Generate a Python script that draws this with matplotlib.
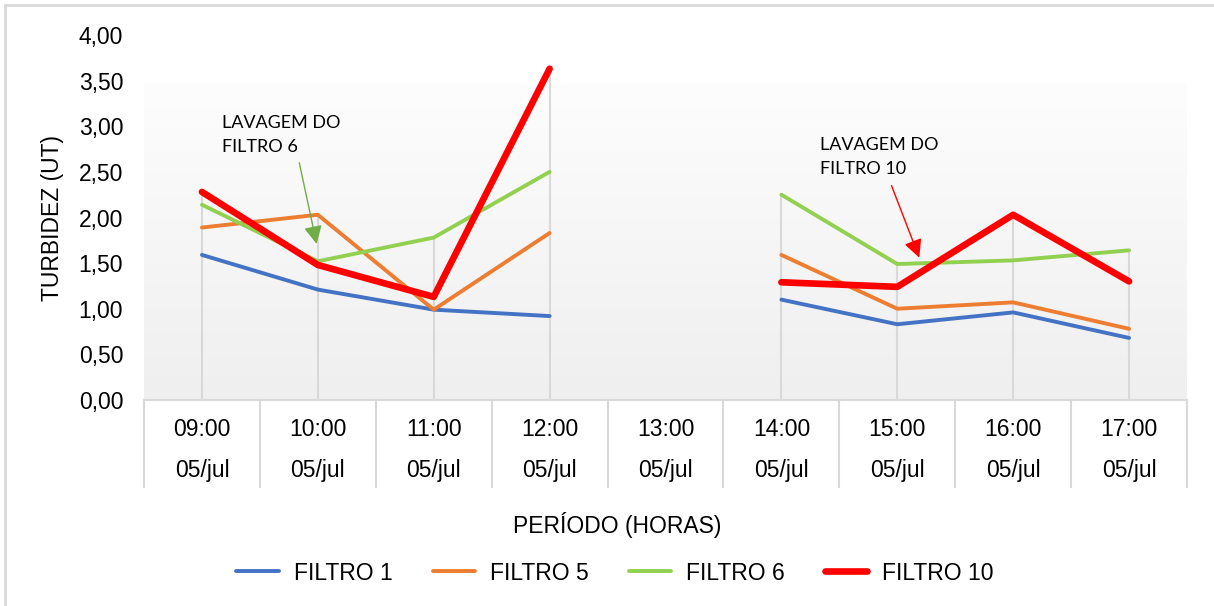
import matplotlib.pyplot as plt
import matplotlib.patches as mpatches
import matplotlib.transforms as mtransforms
from matplotlib.colors import LinearSegmentedColormap
import numpy as np

plt.rcParams['font.family'] = ['Liberation Sans', 'DejaVu Sans']

horas = ['09:00', '10:00', '11:00', '12:00', '13:00', '14:00', '15:00', '16:00', '17:00']
dia = '05/jul'
nan = np.nan
filtro1 = [1.59, 1.21, 0.99, 0.92, nan, 1.10, 0.83, 0.96, 0.68]
filtro5 = [1.89, 2.03, 0.99, 1.83, nan, 1.59, 1.00, 1.07, 0.78]
filtro6 = [2.14, 1.52, 1.78, 2.50, nan, 2.25, 1.49, 1.53, 1.64]
filtro10 = [2.28, 1.48, 1.13, 3.63, nan, 1.29, 1.24, 2.03, 1.30]
yticks = [0, 0.5, 1.0, 1.5, 2.0, 2.5, 3.0, 3.5, 4.0]

series = [('FILTRO 1', filtro1, '#4472c4', 2.8),
          ('FILTRO 5', filtro5, '#ed7d31', 2.8),
          ('FILTRO 6', filtro6, '#92d050', 2.8),
          ('FILTRO 10', filtro10, '#ff0000', 4.8)]

W, H = 1214, 606
fig = plt.figure(figsize=(W / 100, H / 100), dpi=100)

# outer chart border
fig.patches.append(mpatches.Rectangle((5 / W, -0.05), 1.1, 1 - 5 / H + 0.05,
                                      transform=fig.transFigure, fill=False,
                                      edgecolor='#d9d9d9', lw=2))

ax = fig.add_axes([144 / W, (H - 400) / H, (1187 - 144) / W, 365 / H])
x = np.arange(len(horas))
ax.patch.set_visible(False)
for s in ax.spines.values():
    s.set_visible(False)

# plot area gradient
grad = np.linspace(0, 1, 256).reshape(-1, 1)
cmap = LinearSegmentedColormap.from_list('g', ['#fdfdfd', '#efefef'])
ax.imshow(grad, cmap=cmap, aspect='auto', extent=[-0.5, len(horas) - 0.5, 0, 3.47],
          origin='upper', zorder=0)
ax.set_xlim(-0.5, len(horas) - 0.5)
ax.set_ylim(0, 4)

# drop lines
data = np.array([filtro1, filtro5, filtro6, filtro10])
for i in x:
    col = data[:, i]
    if not np.all(np.isnan(col)):
        ax.plot([i, i], [0, np.nanmax(col)], color='#d9d9d9', lw=1.5, zorder=1)

for name, vals, c, lw in series:
    ax.plot(x, vals, color=c, lw=lw, label=name, solid_capstyle='round',
            solid_joinstyle='round', zorder=3)

# category table
trans = mtransforms.blended_transform_factory(ax.transData, ax.transAxes)
ybot = (400 - 487) / 365
ax.plot([-0.5, len(horas) - 0.5], [0, 0], color='#d9d9d9', lw=1.5, transform=trans, clip_on=False)
for b in np.arange(-0.5, len(horas), 1.0):
    ax.plot([b, b], [0, ybot], color='#d9d9d9', lw=1.5, transform=trans, clip_on=False)
for i, h in enumerate(horas):
    ax.text(i, (400 - 429) / 365, h, transform=trans, ha='center', va='center', fontsize=16.5)
    ax.text(i, (400 - 471) / 365, dia, transform=trans, ha='center', va='center', fontsize=16.5)

ax.set_xticks([])
ax.set_yticks(yticks)
ax.set_yticklabels([f'{v:.2f}'.replace('.', ',') for v in yticks], fontsize=16.5)
ax.tick_params(axis='y', length=0, pad=15)

fig.text(52 / W, 1 - 218 / H, 'TURBIDEZ (UT)', rotation=90, ha='center', va='center', fontsize=16.5)
fig.text(617 / W, 1 - 525 / H, 'PERÍODO (HORAS)', ha='center', va='center', fontsize=16.5)

# annotations
ax.annotate('', xy=(0.99, 1.71), xytext=(0.84, 2.60),
            arrowprops=dict(arrowstyle='-|>,head_length=0.5,head_width=0.25', color='#70ad47',
                            lw=1, mutation_scale=22, shrinkA=0, shrinkB=0), zorder=4)
ax.annotate('', xy=(6.19, 1.56), xytext=(5.95, 2.35),
            arrowprops=dict(arrowstyle='-|>,head_length=0.5,head_width=0.25', color='#ff0000',
                            lw=1, mutation_scale=22, shrinkA=0, shrinkB=0), zorder=4)
ax.text(0.17, 3.12, 'LAVAGEM DO\nFILTRO 6', ha='left', va='top', fontsize=13,
        family=['Lato', 'DejaVu Sans'], linespacing=1.6)
ax.text(5.33, 2.88, 'LAVAGEM DO\nFILTRO 10', ha='left', va='top', fontsize=13,
        family=['Lato', 'DejaVu Sans'], linespacing=1.6)

fig.legend(loc='center', bbox_to_anchor=(615 / W, 1 - 573 / H), ncol=4, frameon=False,
           fontsize=16.5, handlelength=1.85, handletextpad=0.65, columnspacing=1.75)

fig.savefig('out.png', dpi=100)
